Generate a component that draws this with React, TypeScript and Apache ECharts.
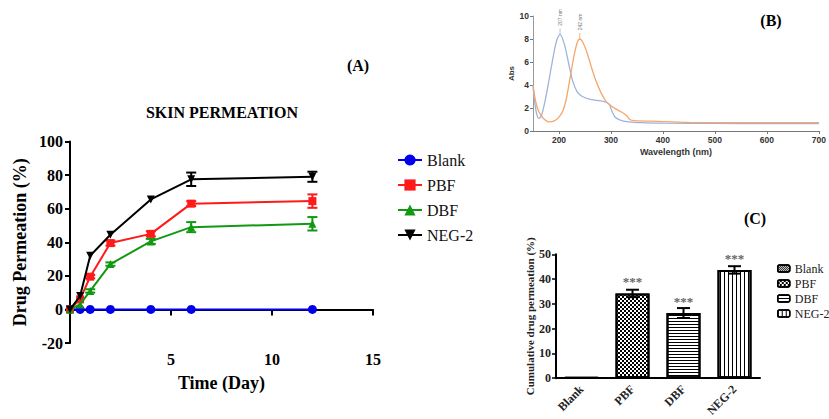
import React, { useEffect, useRef } from "react";
import * as echarts from "echarts";

// ---------- Panel A: skin permeation (time course) ----------
const daysA = [0, 0.5, 1, 2, 4, 6, 12];
const blankA = [0, 0, 0, 0, 0, 0, 0];
const pbfA = [0, 6, 19.5, 39.5, 45, 63, 64.5];
const dbfA = [0, 3, 11, 27, 40.5, 49, 51];
const negA = [0, 8, 32, 44.5, 65.5, 77.5, 79];
const pbfErrA = [0, 0, 1, 1.5, 1.5, 1.5, 4];
const dbfErrA = [0, 0, 1, 1, 1.5, 3, 4];
const negErrA = [0, 0, 0, 0, 0, 4, 3];
const blankErrA = [0, 0, 0, 0, 0, 0, 0];
const seriesNamesA = ["Blank", "PBF", "DBF", "NEG-2"];
const xTicksA = [0, 5, 10, 15];
const yTicksA = [-20, 0, 20, 40, 60, 80, 100];

// ---------- Panel B: UV spectra ----------
const blueSpectrum: [number, number][] = [
  [150, 3.9], [153, 2.6], [157, 1.5], [161, 1.1], [166, 1.3], [175, 3.0], [185, 5.5],
  [195, 7.8], [202, 8.4], [210, 7.6], [218, 6.0], [226, 4.4], [235, 3.4], [245, 3.0],
  [260, 2.75], [275, 2.65], [290, 2.5], [297, 2.3], [302, 1.7], [308, 1.2], [318, 0.95],
  [330, 0.82], [360, 0.72], [400, 0.68], [500, 0.66], [600, 0.65], [700, 0.65],
];
const orangeSpectrum: [number, number][] = [
  [150, 4.0], [155, 2.6], [160, 1.8], [168, 1.2], [180, 0.8], [190, 0.85], [200, 1.2],
  [208, 1.8], [215, 3.0], [222, 4.8], [230, 6.8], [236, 7.8], [240, 8.0], [246, 7.7],
  [254, 6.8], [262, 5.6], [270, 4.5], [280, 3.4], [290, 2.6], [300, 2.2], [310, 1.9],
  [320, 1.65], [330, 1.35], [336, 1.0], [345, 0.9], [380, 0.85], [450, 0.75], [550, 0.72],
  [700, 0.72],
];
const peakBlue: [number, number] = [202, 8.4];
const peakOrange: [number, number] = [240, 8.0];
const peakLabels = ["207 nm", "242 nm"];

// ---------- Panel C: cumulative permeation ----------
const catsC = ["Blank", "PBF", "DBF", "NEG-2"];
const cumC = [0.3, 34.2, 26.3, 43.7];
const cumErrC = [0, 1.5, 2, 1.5];
const sigC = ["", "***", "***", "***"];

const SERIF = "Liberation Serif";
const SANS = "Liberation Sans";

function errorRender(capHalf: number, color: string) {
  return (params: any, api: any) => {
    const x = api.value(0);
    const lo = api.coord([x, api.value(1)]);
    const hi = api.coord([x, api.value(2)]);
    const style = { stroke: color, lineWidth: 2 };
    return {
      type: "group",
      children: [
        { type: "line", shape: { x1: lo[0], y1: lo[1], x2: hi[0], y2: hi[1] }, style },
        { type: "line", shape: { x1: hi[0] - capHalf, y1: hi[1], x2: hi[0] + capHalf, y2: hi[1] }, style },
        { type: "line", shape: { x1: lo[0] - capHalf, y1: lo[1], x2: lo[0] + capHalf, y2: lo[1] }, style },
      ],
    };
  };
}

export default function App() {
  const refA = useRef<HTMLDivElement>(null);
  const refB = useRef<HTMLDivElement>(null);
  const refC = useRef<HTMLDivElement>(null);

  useEffect(() => {
    document.body.style.margin = "0";
    const a = echarts.init(refA.current!, null, { renderer: "svg" });
    const b = echarts.init(refB.current!, null, { renderer: "svg" });
    const c = echarts.init(refC.current!, null, { renderer: "svg" });

    // ----- A -----
    const colorsA = ["#0000ee", "#ff1a1a", "#119911", "#000000"];
    const symbolsA = ["circle", "rect", "triangle", "triangle"];
    const valsA = [blankA, pbfA, dbfA, negA];
    const errsA = [blankErrA, pbfErrA, dbfErrA, negErrA];
    const lineSeries: any[] = valsA.map((vals, k) => ({
      type: "line",
      name: seriesNamesA[k],
      data: daysA.map((d, i) => [d, vals[i]]),
      symbol: symbolsA[k],
      symbolSize: k === 0 ? 9 : 8,
      symbolRotate: k === 3 ? 180 : 0,
      lineStyle: { color: colorsA[k], width: 2 },
      itemStyle: { color: colorsA[k] },
      z: 3 + k,
    }));
    const errSeriesA: any[] = valsA.map((vals, k) => ({
      type: "custom",
      name: seriesNamesA[k] + " err",
      renderItem: errorRender(5, colorsA[k]),
      data: daysA
        .map((d, i) => [d, vals[i] - errsA[k][i], vals[i] + errsA[k][i]])
        .filter((_, i) => errsA[k][i] > 0),
      z: 3 + k,
      silent: true,
    }));
    a.setOption({
      animation: false,
      textStyle: { fontFamily: SERIF },
      grid: { left: 70, top: 141.5, width: 303, height: 201.5 },
      xAxis: {
        type: "value",
        min: xTicksA[0],
        max: xTicksA[xTicksA.length - 1],
        interval: 5,
        axisLine: { onZero: true, lineStyle: { color: "#000", width: 2 } },
        axisTick: { length: 6, lineStyle: { color: "#000", width: 2 } },
        axisLabel: {
          formatter: (v: number) => (v === 0 ? "" : String(v)),
          fontFamily: SERIF, fontWeight: "bold", fontSize: 16, color: "#000", margin: 8,
        },
        splitLine: { show: false },
        name: "Time (Day)",
        nameLocation: "middle",
        nameGap: 31,
        nameTextStyle: { fontFamily: SERIF, fontWeight: "bold", fontSize: 18, color: "#000" },
      },
      yAxis: {
        type: "value",
        min: yTicksA[0],
        max: yTicksA[yTicksA.length - 1],
        interval: 20,
        axisLine: { show: true, onZero: false, lineStyle: { color: "#000", width: 2 } },
        axisTick: { show: true, length: 5, lineStyle: { color: "#000", width: 2 } },
        axisLabel: { fontFamily: SERIF, fontWeight: "bold", fontSize: 16, color: "#000", margin: 7 },
        splitLine: { show: false },
        name: "Drug Permeation (%)",
        nameLocation: "middle",
        nameGap: 41,
        nameTextStyle: { fontFamily: SERIF, fontWeight: "bold", fontSize: 18, color: "#000" },
      },
      legend: {
        orient: "vertical",
        left: 392,
        top: 147,
        itemWidth: 24,
        itemHeight: 14,
        itemGap: 9,
        data: seriesNamesA,
        textStyle: { fontFamily: SERIF, fontSize: 16, color: "#111" },
      },
      graphic: [
        {
          type: "text", x: 222, y: 112,
          style: { text: "SKIN PERMEATION", font: `bold 16px "${SERIF}"`, fill: "#000", textAlign: "center", textVerticalAlign: "middle" },
        },
        {
          type: "text", x: 358, y: 65,
          style: { text: "(A)", font: `bold 16px "${SERIF}"`, fill: "#000", textAlign: "center", textVerticalAlign: "middle" },
        },
      ],
      series: [...lineSeries, ...errSeriesA],
    });

    // ----- B -----
    const peakMark = (pt: [number, number], label: string, color: string) => ({
      symbol: "rect",
      symbolSize: [0.8, 6],
      symbolOffset: [0, -3],
      itemStyle: { color },
      label: {
        show: true, formatter: label, rotate: 90, fontSize: 5, color: "#777", fontFamily: SANS,
        position: "inside", offset: [14, 0],
      },
      data: [{ coord: pt }],
    });
    b.setOption({
      animation: false,
      textStyle: { fontFamily: SANS },
      grid: { left: 533, top: 16, width: 290, height: 115 },
      xAxis: {
        type: "value", min: 150, max: 700, splitNumber: 5,
        axisLine: { lineStyle: { color: "#777", width: 1 } },
        axisTick: { length: 3, lineStyle: { color: "#777" } },
        axisLabel: { showMinLabel: false, fontFamily: SANS, fontWeight: "bold", fontSize: 8.5, color: "#333", margin: 4 },
        splitLine: { show: false },
        name: "Wavelength (nm)", nameLocation: "middle", nameGap: 16,
        nameTextStyle: { fontFamily: SANS, fontWeight: "bold", fontSize: 9, color: "#333" },
      },
      yAxis: {
        type: "value", min: 0, max: 10, interval: 2,
        axisLine: { show: true, lineStyle: { color: "#999", width: 1 } },
        axisTick: { show: true, length: 3, lineStyle: { color: "#777" } },
        axisLabel: { fontFamily: SANS, fontWeight: "bold", fontSize: 8.5, color: "#333", margin: 4 },
        splitLine: { show: false },
        name: "Abs", nameLocation: "middle", nameGap: 16,
        nameTextStyle: { fontFamily: SANS, fontWeight: "bold", fontSize: 8, color: "#333" },
      },
      graphic: [
        {
          type: "text", x: 771, y: 20,
          style: { text: "(B)", font: `bold 16px "${SERIF}"`, fill: "#000", textAlign: "center", textVerticalAlign: "middle" },
        },
      ],
      series: [
        {
          type: "line", name: "spectrum 1", data: blueSpectrum, smooth: 0.3, showSymbol: false,
          lineStyle: { color: "#9fb3dc", width: 1.3 }, itemStyle: { color: "#9fb3dc" },
          markPoint: peakMark(peakBlue, peakLabels[0], "#9fb3dc"),
        },
        {
          type: "line", name: "spectrum 2", data: orangeSpectrum, smooth: 0.3, showSymbol: false,
          lineStyle: { color: "#f5a66b", width: 1.3 }, itemStyle: { color: "#f5a66b" },
          markPoint: peakMark(peakOrange, peakLabels[1], "#f5a66b"),
        },
      ],
    });

    // ----- C -----
    const decals: any[] = [
      { symbol: "rect", symbolSize: 1, color: "#000", dashArrayX: [[1, 1], [0, 1, 1, 0]], dashArrayY: [1, 0] },
      { symbol: "rect", symbolSize: 1, color: "#000", dashArrayX: [[2, 2], [0, 2, 2, 0]], dashArrayY: [2, 0] },
      { symbol: "rect", symbolSize: 1, color: "#000", dashArrayX: [[1, 0]], dashArrayY: [1, 1.7] },
      { symbol: "rect", symbolSize: 1, color: "#000", dashArrayX: [1, 2.6], dashArrayY: [1, 0] },
    ];
    const barSeries: any[] = catsC.map((name, i) => ({
      type: "bar",
      name,
      data: catsC.map((_, j) =>
        j === i ? { value: cumC[i], label: { show: sigC[i] !== "" } } : "-"
      ),
      barWidth: 34,
      barGap: "-100%",
      itemStyle: { color: "#fff", borderColor: "#000", borderWidth: 2, decal: decals[i] },
      label: {
        show: false, position: "top", distance: 5, formatter: sigC[i],
        fontFamily: SERIF, fontSize: 13, fontWeight: "bold", color: "#666",
      },
    }));
    c.setOption({
      animation: false,
      textStyle: { fontFamily: SERIF },
      grid: { left: 556, top: 254.3, width: 204, height: 134.4 },
      xAxis: {
        type: "category", data: catsC,
        axisLine: { lineStyle: { color: "#000", width: 2 } },
        axisTick: { alignWithLabel: true, length: 4, lineStyle: { color: "#000", width: 1.5 } },
        axisLabel: { rotate: 45, fontFamily: SERIF, fontWeight: "bold", fontSize: 12, color: "#222", margin: 9 },
      },
      yAxis: {
        type: "value", min: 0, max: 50, interval: 10,
        axisLine: { show: true, lineStyle: { color: "#000", width: 2 } },
        axisTick: { show: true, length: 4, lineStyle: { color: "#000", width: 1.5 } },
        axisLabel: { fontFamily: SERIF, fontWeight: "bold", fontSize: 12, color: "#222", margin: 5 },
        splitLine: { show: false },
        name: "Cumulative drug permeation (%)", nameLocation: "middle", nameGap: 18,
        nameTextStyle: { fontFamily: SERIF, fontWeight: "bold", fontSize: 11, color: "#222" },
      },
      legend: {
        orient: "vertical", left: 772, top: 257,
        itemWidth: 12, itemHeight: 7, itemGap: 2,
        data: catsC,
        itemStyle: { borderColor: "#000", borderWidth: 1.5 },
        textStyle: { fontFamily: SERIF, fontSize: 12, color: "#222", lineHeight: 13 },
      },
      graphic: [
        {
          type: "text", x: 755, y: 218,
          style: { text: "(C)", font: `bold 16px "${SERIF}"`, fill: "#000", textAlign: "center", textVerticalAlign: "middle" },
        },
      ],
      series: [
        ...barSeries,
        {
          type: "custom", name: "err",
          renderItem: errorRender(6.5, "#000"),
          data: catsC
            .map((_, i) => [i, cumC[i] - cumErrC[i], cumC[i] + cumErrC[i]])
            .filter((_, i) => cumErrC[i] > 0),
          z: 5, silent: true,
        },
      ],
    });

    return () => {
      a.dispose();
      b.dispose();
      c.dispose();
    };
  }, []);

  const layer: React.CSSProperties = { position: "absolute", left: 0, top: 0, width: 829, height: 419 };
  return (
    <div style={{ position: "relative", width: 829, height: 419, background: "#fff", overflow: "hidden" }}>
      <div ref={refA} style={layer} />
      <div ref={refB} style={layer} />
      <div ref={refC} style={layer} />
    </div>
  );
}
